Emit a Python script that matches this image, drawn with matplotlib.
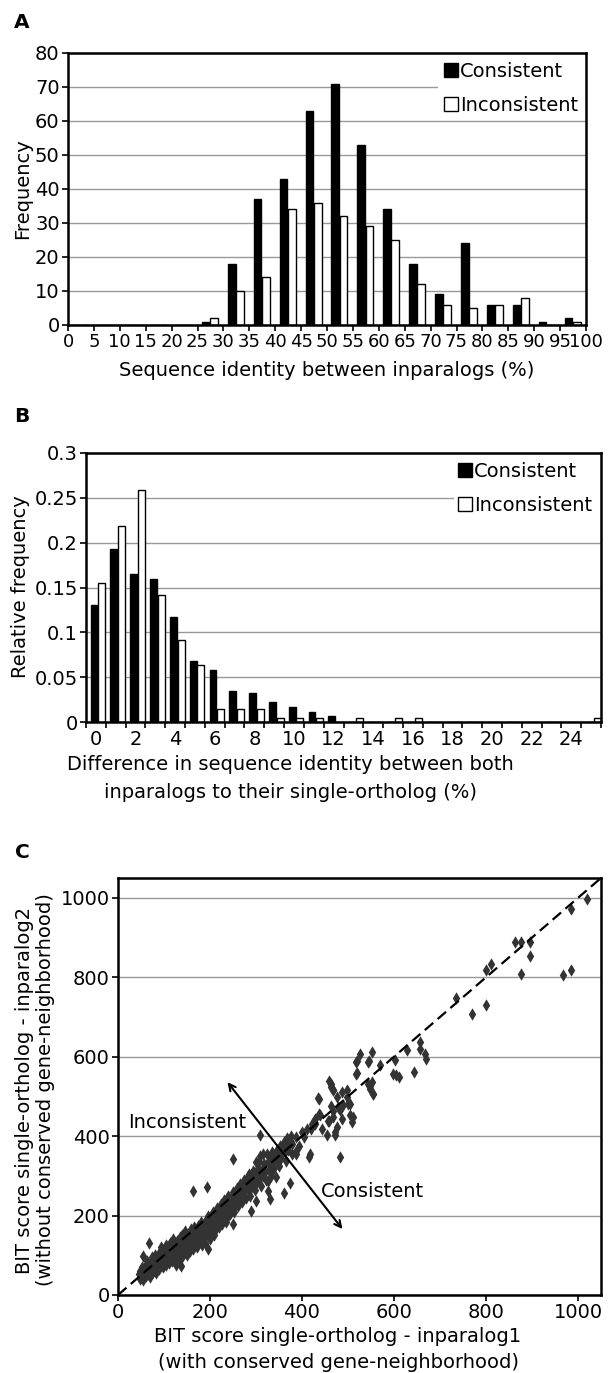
import numpy as np
import matplotlib
matplotlib.use("Agg")
import matplotlib.pyplot as plt
from matplotlib.patches import Patch, Rectangle

# ---- panel A: sequence identity histogram (bin lower edges, %)
ident_bins = [0, 5, 10, 15, 20, 25, 30, 35, 40, 45, 50, 55, 60, 65, 70, 75, 80, 85, 90, 95]
ident_consistent = [0, 0, 0, 0, 0, 1, 18, 37, 43, 63, 71, 53, 34, 18, 9, 24, 6, 6, 1, 2]
ident_inconsistent = [0, 0, 0, 0, 0, 2, 10, 14, 34, 36, 32, 29, 25, 12, 6, 5, 6, 8, 0, 1]

# ---- panel B: difference in identity, relative frequency
diff_bins = list(range(26))
diff_consistent = [0.130, 0.193, 0.165, 0.159, 0.1175, 0.068, 0.058, 0.035, 0.032, 0.022,
                   0.0165, 0.011, 0.0065, 0, 0, 0, 0, 0, 0, 0, 0, 0, 0, 0, 0, 0]
diff_inconsistent = [0.155, 0.219, 0.259, 0.142, 0.092, 0.064, 0.015, 0.015, 0.015, 0.005,
                     0.005, 0.005, 0, 0.005, 0, 0.005, 0.005, 0, 0, 0, 0, 0, 0, 0, 0, 0.005]

# ---- panel C: BIT scores (inparalog1, inparalog2)
bit_pairs = [
    (1020, 996), (984, 971), (862, 889), (875, 890), (895, 889), (895, 853), (875, 809),
    (967, 805), (984, 818), (801, 818), (810, 833), (801, 729), (769, 707), (735, 748),
    (656, 637), (656, 620), (667, 607), (670, 595), (629, 618), (602, 592), (552, 612),
    (527, 607), (519, 589), (545, 589), (570, 578), (644, 561), (598, 557), (610, 549),
    (604, 553), (555, 506), (547, 519), (543, 531), (517, 557), (543, 586), (517, 586),
    (519, 559), (552, 536), (555, 507), (548, 527), (459, 540), (464, 523), (468, 515),
    (435, 496), (475, 498), (497, 515), (504, 481), (490, 478), (482, 466), (511, 447),
    (464, 477), (468, 447), (457, 439), (475, 422), (439, 452), (428, 444), (421, 431),
    (410, 419), (399, 410), (388, 397), (377, 384), (367, 372), (443, 419), (454, 402),
    (471, 402), (309, 403), (323, 355), (334, 359), (309, 351), (250, 342), (417, 355),
    (482, 347), (388, 355), (353, 355), (360, 372), (462, 532), (467, 515), (488, 511),
    (497, 498), (499, 481), (479, 473), (505, 452), (509, 435), (488, 443), (467, 464),
    (471, 410), (458, 439), (437, 494), (437, 456), (428, 431), (420, 418), (404, 397),
    (394, 376), (386, 363), (378, 355), (365, 338), (349, 326), (344, 296), (327, 288),
    (335, 313), (306, 338), (293, 313), (285, 305), (361, 258), (416, 347), (374, 283),
    (327, 262), (162, 262), (193, 273), (196, 115), (249, 178), (330, 241), (68, 132),
    (55, 98), (136, 73), (301, 334), (301, 237), (290, 212), (316, 355),
    (45, 52), (47, 40), (48, 60), (50, 45), (52, 70), (53, 50), (55, 38), (56, 62),
    (58, 55), (60, 75), (60, 48), (62, 58), (63, 85), (65, 52), (66, 68), (68, 60),
    (70, 45), (70, 80), (72, 66), (73, 95), (75, 58), (76, 72), (78, 85), (80, 62),
    (80, 100), (82, 75), (83, 55), (85, 90), (86, 70), (88, 82), (90, 65), (90, 105),
    (92, 88), (93, 120), (95, 78), (96, 95), (98, 70), (100, 110), (100, 88), (102, 98),
    (104, 75), (105, 125), (106, 100), (108, 90), (110, 115), (110, 80), (112, 105),
    (114, 130), (115, 95), (116, 118), (118, 85), (120, 108), (120, 140), (122, 96),
    (124, 120), (125, 75), (126, 112), (128, 135), (130, 100), (130, 122), (132, 90),
    (134, 145), (135, 118), (136, 105), (138, 128), (140, 95), (140, 150), (142, 115),
    (144, 135), (145, 108), (146, 160), (148, 125), (150, 100), (150, 140), (152, 118),
    (154, 150), (155, 132), (156, 110), (158, 165), (160, 125), (160, 145), (162, 135),
    (164, 115), (165, 170), (166, 150), (168, 128), (170, 160), (170, 140), (172, 120),
    (174, 175), (175, 150), (176, 135), (178, 162), (180, 145), (180, 185), (182, 125),
    (184, 170), (185, 155), (186, 140), (188, 180), (190, 160), (190, 130), (192, 190),
    (194, 170), (195, 150), (196, 200), (198, 175), (200, 160), (200, 140), (202, 195),
    (204, 180), (205, 165), (206, 210), (208, 150), (210, 190), (210, 175), (212, 205),
    (214, 165), (215, 220), (216, 185), (218, 200), (220, 170), (220, 215), (222, 190),
    (224, 230), (225, 205), (226, 180), (228, 220), (230, 195), (230, 240), (232, 210),
    (234, 185), (236, 230), (238, 215), (240, 200), (240, 250), (242, 225), (244, 205),
    (246, 240), (248, 220), (250, 260), (250, 235), (252, 210), (254, 250), (256, 230),
    (258, 270), (260, 245), (260, 225), (262, 260), (264, 240), (266, 280), (268, 255),
    (270, 235), (270, 270), (272, 250), (274, 290), (276, 265), (278, 245), (280, 280),
    (282, 300), (284, 262), (286, 285), (288, 250), (290, 300), (292, 275), (294, 310),
    (296, 290), (298, 265), (300, 305), (302, 285), (305, 320), (308, 295), (310, 275),
    (312, 315), (315, 300), (318, 330), (320, 310), (322, 290), (325, 335), (328, 315),
    (330, 345), (332, 300), (335, 330), (338, 355), (340, 320), (342, 345), (345, 365),
    (348, 335), (350, 355), (352, 375), (355, 345), (358, 370), (360, 385), (362, 360),
    (365, 375), (368, 395), (370, 365), (372, 385), (375, 400), (378, 380),
]
bit_inparalog1 = [p[0] for p in bit_pairs]
bit_inparalog2 = [p[1] for p in bit_pairs]

plt.rcParams['font.family'] = ['DejaVu Sans']
plt.rcParams['font.size'] = 14

W, H = 610, 1373
fig = plt.figure(figsize=(W / 100, H / 100), dpi=100)


def box(l, t, r, b):
    return [l / W, 1 - b / H, (r - l) / W, (b - t) / H]


def ftext(x, y, s, **kw):
    fig.text(x / W, 1 - y / H, s, ha=kw.pop('ha', 'center'), va=kw.pop('va', 'center'), **kw)


def style(ax):
    for sp in ax.spines.values():
        sp.set_linewidth(1.8)
        sp.set_color('black')
    ax.set_axisbelow(True)
    ax.yaxis.grid(True, color='#999999', lw=1)
    ax.tick_params(direction='out', length=4, width=1.2, pad=2, labelsize=14)


def legend_box(ax, x0, y0, x1, y1, anchor):
    # white patch hiding the gridline behind the legend (figure pixel coords)
    l, b, w, h = ax.get_position().bounds
    ax_x0, ax_y0 = l * W, (1 - b - h) * H
    aw, ah = w * W, h * H
    ax.add_patch(Rectangle(((x0 - ax_x0) / aw, 1 - (y1 - ax_y0) / ah),
                           (x1 - x0) / aw, (y1 - y0) / ah, transform=ax.transAxes,
                           facecolor='white', edgecolor='none', zorder=0.8))
    handles = [Patch(facecolor='black', edgecolor='black', label='Consistent'),
               Patch(facecolor='white', edgecolor='black', label='Inconsistent')]
    ax.legend(handles=handles, loc='upper left', frameon=False,
              bbox_to_anchor=((anchor[0] - ax_x0) / aw, 1 - (anchor[1] - ax_y0) / ah),
              borderaxespad=0, borderpad=0, handlelength=0.72, handleheight=0.72,
              handletextpad=0.1, labelspacing=0.75, fontsize=14)


# ---------------- A
axA = fig.add_axes(box(68, 53, 586, 325))
left = np.array(ident_bins)
axA.bar(left + 1.6, ident_consistent, width=1.5, color='black', edgecolor='black', lw=1, zorder=2)
axA.bar(left + 3.2, ident_inconsistent, width=1.5, color='white', edgecolor='black', lw=1, zorder=2)
axA.set_xlim(0, 100)
axA.set_ylim(0, 80)
axA.set_xticks(range(0, 101, 5))
axA.set_yticks(range(0, 81, 10))
style(axA)
axA.tick_params(axis='x', labelsize=13)
legend_box(axA, 438, 62, 586, 118, (444, 62))
ftext(22, 23, 'A', fontsize=14.5, fontweight='bold')
ftext(23, 189, 'Frequency', rotation=90)
ftext(327, 370, 'Sequence identity between inparalogs (%)')

# ---------------- B
axB = fig.add_axes(box(86, 453, 601, 722))
xb = np.array(diff_bins)
axB.bar(xb - 0.09, diff_consistent, width=0.35, color='black', edgecolor='black', lw=1, zorder=2)
axB.bar(xb + 0.3, diff_inconsistent, width=0.35, color='white', edgecolor='black', lw=1, zorder=2)
axB.set_xlim(-0.5, 25.5)
axB.set_ylim(0, 0.3)
axB.set_yticks([0, 0.05, 0.1, 0.15, 0.2, 0.25, 0.3])
axB.set_yticklabels(['0', '0.05', '0.1', '0.15', '0.2', '0.25', '0.3'])
axB.set_xticks(range(0, 25, 2))
axB.set_xticks(np.arange(-0.5, 26, 1), minor=True)
style(axB)
axB.tick_params(axis='x', which='major', length=0, pad=6)
axB.tick_params(axis='x', which='minor', direction='out', length=4, width=1.2)
legend_box(axB, 454, 458, 601, 522, (458, 462))
ftext(22, 417, 'B', fontsize=14.5, fontweight='bold')
ftext(21, 587, 'Relative frequency', rotation=90)
ftext(290, 765, 'Difference in sequence identity between both')
ftext(290, 792, 'inparalogs to their single-ortholog (%)')

# ---------------- C
axC = fig.add_axes(box(118, 878, 601, 1295))
axC.scatter(bit_inparalog1, bit_inparalog2, marker='d', s=40, color='#333333',
            linewidths=0, zorder=3)
axC.plot([0, 1050], [0, 1050], color='black', lw=1.6, dashes=(5, 2.6), zorder=4)
axC.set_xlim(0, 1050)
axC.set_ylim(0, 1050)
axC.set_xticks(range(0, 1001, 200))
axC.set_yticks(range(0, 1001, 200))
style(axC)
axC.annotate('', xy=(238, 536), xytext=(488, 166),
             arrowprops=dict(arrowstyle='<->', color='black', lw=1.5,
                             mutation_scale=12, shrinkA=0, shrinkB=0), zorder=5)
axC.text(22, 434, 'Inconsistent', ha='left', va='center', fontsize=14, zorder=5)
axC.text(441, 260, 'Consistent', ha='left', va='center', fontsize=14, zorder=5)
ftext(22, 852, 'C', fontsize=14.5, fontweight='bold')
ftext(25, 1090, 'BIT score single-ortholog - inparalog2', rotation=90)
ftext(46, 1090, '(without conserved gene-neighborhood)', rotation=90)
ftext(338, 1336, 'BIT score single-ortholog - inparalog1')
ftext(338, 1362, '(with conserved gene-neighborhood)')

fig.savefig('out.png', dpi=100)
